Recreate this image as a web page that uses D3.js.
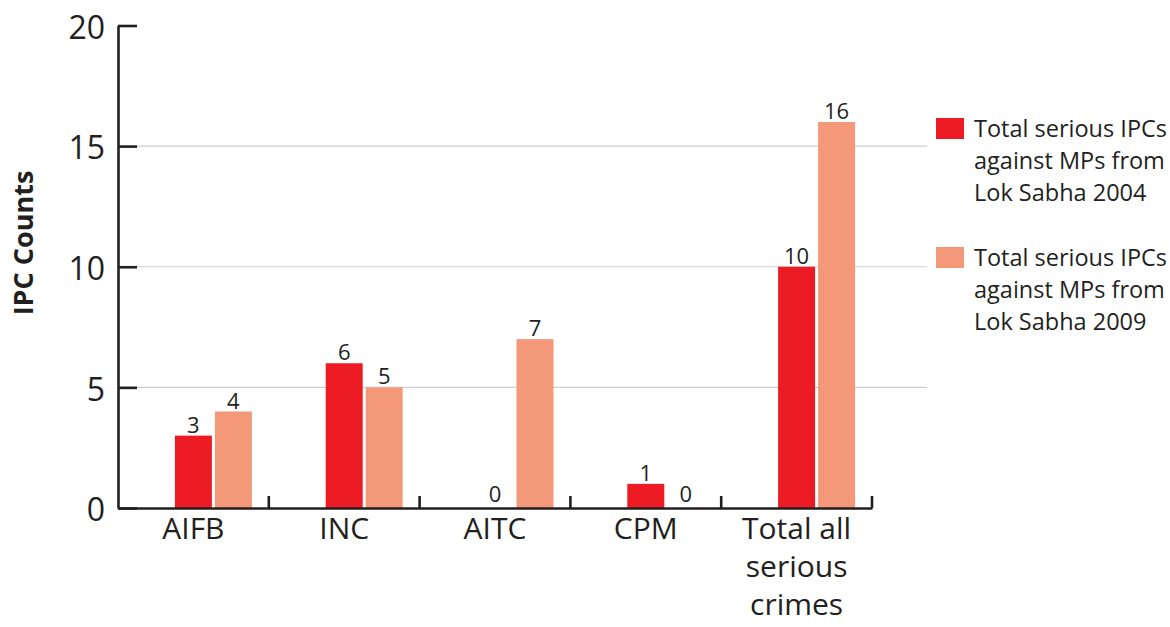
<!DOCTYPE html>
<html>
<head>
<meta charset="utf-8">
<script src="https://cdn.jsdelivr.net/npm/d3@7"></script>
<style>
  html, body { margin: 0; padding: 0; background: #ffffff; }
  svg { display: block; font-family: "Open Sans", "Noto Sans", sans-serif; }
</style>
</head>
<body>
<svg id="chart" width="1170" height="627"></svg>
<script>
// ---- data ----
const categories = ["AIFB", "INC", "AITC", "CPM", "Total all serious crimes"];
const categoryLines = [["AIFB"], ["INC"], ["AITC"], ["CPM"], ["Total all", "serious", "crimes"]];
const values2004 = [3, 6, 0, 1, 10];
const values2009 = [4, 5, 7, 0, 16];
const seriesNames = [
  ["Total serious IPCs", "against MPs from", "Lok Sabha 2004"],
  ["Total serious IPCs", "against MPs from", "Lok Sabha 2009"]
];
const yTicks = [0, 5, 10, 15, 20];
const yTitle = "IPC Counts";

// ---- styles ----
const colors = ["#ED1C24", "#F4987A"];
const ink = "#231F20";
const grid = "#cfcfcf";

const svg = d3.select("#chart");

const y = d3.scaleLinear().domain([0, 20]).range([508, 25.5]);
const x = d3.scaleBand().domain(categories).range([118, 872]).padding(0);
const bw = 37;
const barOffsets = [-18.5, 21.5];

// gridlines
svg.append("g").selectAll("line")
  .data(yTicks.filter(t => t > 0 && t < 20))
  .join("line")
  .attr("x1", 118).attr("x2", 927)
  .attr("y1", d => y(d)).attr("y2", d => y(d))
  .attr("stroke", grid).attr("stroke-width", 1.2);

// bars
const series = [values2004, values2009];
series.forEach((vals, si) => {
  const g = svg.append("g");
  g.selectAll("rect")
    .data(categories.map((c, i) => ({ c, v: vals[i] })))
    .join("rect")
    .attr("x", d => x(d.c) + x.bandwidth() / 2 + barOffsets[si])
    .attr("width", bw)
    .attr("y", d => y(d.v))
    .attr("height", d => y(0) - y(d.v))
    .attr("fill", colors[si]);
  g.selectAll("text")
    .data(categories.map((c, i) => ({ c, v: vals[i] })))
    .join("text")
    .attr("x", d => x(d.c) + x.bandwidth() / 2 + barOffsets[si] + bw / 2)
    .attr("y", d => y(d.v) - (d.v === 0 ? 6 : 3))
    .attr("text-anchor", "middle")
    .attr("font-size", 22)
    .attr("fill", ink)
    .text(d => d.v);
});

// y axis
const yAxis = d3.axisLeft(y).tickValues(yTicks).tickSize(-19).tickSizeOuter(0).tickPadding(13);
const ya = svg.append("g").attr("transform", "translate(118,0)").call(yAxis);
ya.select(".domain").attr("stroke", ink).attr("stroke-width", 2.6);
ya.selectAll(".tick line").attr("stroke", ink).attr("stroke-width", 2.6);
ya.selectAll(".tick text")
  .attr("font-size", 32).attr("fill", ink)
  .attr("font-family", "'Open Sans', sans-serif")
  .attr("dy", "0.4em");

// x axis
const xAxis = d3.axisBottom(x).tickSize(0).tickSizeOuter(0).tickFormat("");
const xa = svg.append("g").attr("transform", `translate(0,${y(0)})`).call(xAxis);
xa.select(".domain").attr("stroke", ink).attr("stroke-width", 2.6);
svg.append("g").selectAll("line")
  .data(categories)
  .join("line")
  .attr("x1", d => x(d) + x.bandwidth()).attr("x2", d => x(d) + x.bandwidth())
  .attr("y1", y(0)).attr("y2", y(0) - 12)
  .attr("stroke", ink).attr("stroke-width", 2.6);

// category labels
const cl = svg.append("g").selectAll("text")
  .data(categories.map((c, i) => ({ c, lines: categoryLines[i] })))
  .join("text")
  .attr("x", d => x(d.c) + x.bandwidth() / 2)
  .attr("y", 539)
  .attr("text-anchor", "middle")
  .attr("font-size", 30)
  .attr("fill", ink);
cl.selectAll("tspan")
  .data(d => d.lines.map(l => ({ l, cx: x(d.c) + x.bandwidth() / 2 })))
  .join("tspan")
  .attr("x", d => d.cx)
  .attr("dy", (d, i) => i === 0 ? 0 : 38)
  .text(d => d.l);

// y title
svg.append("text")
  .attr("transform", "translate(33,243) rotate(-90)")
  .attr("text-anchor", "middle")
  .attr("font-size", 27)
  .attr("font-weight", "bold")
  .attr("fill", ink)
  .text(yTitle);

// legend
const legendY = [118, 247];
seriesNames.forEach((lines, si) => {
  const g = svg.append("g");
  g.append("rect")
    .attr("x", 936).attr("y", legendY[si])
    .attr("width", 28).attr("height", 21)
    .attr("fill", colors[si]);
  const t = g.append("text")
    .attr("x", 974).attr("y", legendY[si] + 19)
    .attr("font-size", 23.5).attr("fill", ink);
  t.selectAll("tspan").data(lines).join("tspan")
    .attr("x", 974)
    .attr("dy", (d, i) => i === 0 ? 0 : 32.2)
    .text(d => d);
});
</script>
</body>
</html>
